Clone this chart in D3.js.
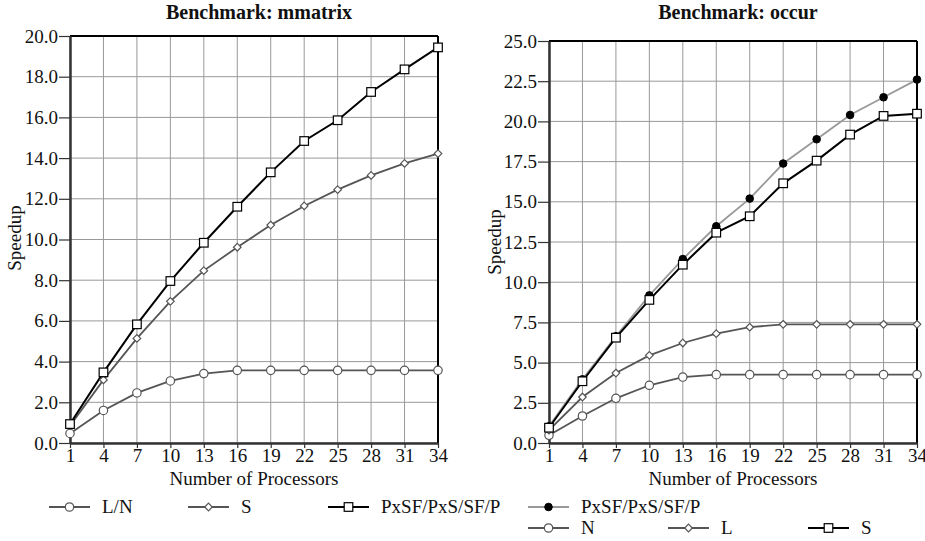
<!DOCTYPE html>
<html>
<head>
<meta charset="utf-8">
<script src="https://cdn.jsdelivr.net/npm/d3@7"></script>
<style>
  body { margin: 0; background: #fff; }
  svg text { font-family: "Liberation Serif", "Times New Roman", serif; fill: #111; }
</style>
</head>
<body>
<div id="chart"></div>
<script>
// number of processors (x axis, shared)
var procs = [1, 4, 7, 10, 13, 16, 19, 22, 25, 28, 31, 34];

// Benchmark: mmatrix
var mmatrixLN = [0.47, 1.6, 2.46, 3.05, 3.41, 3.57, 3.57, 3.57, 3.57, 3.57, 3.57, 3.57];
var mmatrixS = [0.85, 3.1, 5.14, 6.96, 8.47, 9.62, 10.71, 11.65, 12.45, 13.15, 13.74, 14.22];
var mmatrixP = [0.93, 3.47, 5.83, 7.96, 9.84, 11.61, 13.3, 14.84, 15.86, 17.25, 18.36, 19.44];
var mmatrixTicks = [0, 2, 4, 6, 8, 10, 12, 14, 16, 18, 20];

// Benchmark: occur
var occurP = [1.04, 3.96, 6.64, 9.18, 11.44, 13.48, 15.2, 17.38, 18.89, 20.4, 21.5, 22.6];
var occurN = [0.48, 1.68, 2.78, 3.59, 4.1, 4.25, 4.25, 4.25, 4.25, 4.25, 4.25, 4.25];
var occurL = [0.8, 2.86, 4.35, 5.45, 6.22, 6.8, 7.2, 7.38, 7.38, 7.38, 7.38, 7.38];
var occurS = [0.95, 3.84, 6.55, 8.9, 11.09, 13.08, 14.1, 16.15, 17.56, 19.18, 20.34, 20.48];
var occurTicks = [0, 2.5, 5, 7.5, 10, 12.5, 15, 17.5, 20, 22.5, 25];

var width = 925, height = 541;

var svg = d3.select("#chart")
            .append("svg")
            .attr("width", width)
            .attr("height", height);

function drawMarker(g, shape, x, y, fill, stroke)
{
	if (shape === "circle") {
		g.append("circle").attr("cx", x).attr("cy", y).attr("r", 4.2)
		 .attr("fill", fill).attr("stroke", stroke).attr("stroke-width", 1.2);
	} else if (shape === "dot") {
		g.append("circle").attr("cx", x).attr("cy", y).attr("r", 3.8)
		 .attr("fill", "#000").attr("stroke", "#000").attr("stroke-width", 1);
	} else if (shape === "diamond") {
		var s = 3.8;
		g.append("path")
		 .attr("d", "M" + x + "," + (y - s) + "L" + (x + s) + "," + y + "L" + x + "," + (y + s) + "L" + (x - s) + "," + y + "Z")
		 .attr("fill", fill).attr("stroke", stroke).attr("stroke-width", 1.2);
	} else if (shape === "square") {
		var h = 4.3;
		g.append("rect").attr("x", x - h).attr("y", y - h).attr("width", 2 * h).attr("height", 2 * h)
		 .attr("fill", fill).attr("stroke", stroke).attr("stroke-width", 1.2);
	}
}

function drawChart(opts)
{
	var x = d3.scaleLinear().domain([1, 34]).range([opts.left, opts.right]);
	var y = d3.scaleLinear().domain([0, opts.ymax]).range([opts.bottom, opts.top]);

	var g = svg.append("g");

	// grid
	g.append("g").selectAll("line").data(procs).enter().append("line")
	 .attr("x1", d => x(d)).attr("x2", d => x(d))
	 .attr("y1", opts.top).attr("y2", opts.bottom)
	 .attr("stroke", "#999").attr("stroke-width", 1);
	g.append("g").selectAll("line").data(opts.ticks).enter().append("line")
	 .attr("x1", opts.left).attr("x2", opts.right)
	 .attr("y1", d => y(d)).attr("y2", d => y(d))
	 .attr("stroke", "#999").attr("stroke-width", 1);

	// frame
	g.append("line").attr("x1", opts.left).attr("x2", opts.right)
	 .attr("y1", opts.top).attr("y2", opts.top).attr("stroke", "#000").attr("stroke-width", 2);
	g.append("line").attr("x1", opts.right).attr("x2", opts.right)
	 .attr("y1", opts.top).attr("y2", opts.bottom).attr("stroke", "#000").attr("stroke-width", 2);

	// axes
	var yAxis = d3.axisLeft(y).tickValues(opts.ticks).tickFormat(d3.format(".1f"))
	              .tickSizeInner(11).tickSizeOuter(0).tickPadding(1);
	var ya = g.append("g").attr("transform", "translate(" + opts.left + ",0)").call(yAxis);
	var xAxis = d3.axisBottom(x).tickValues(procs).tickSizeInner(5).tickSizeOuter(0).tickPadding(1);
	var xa = g.append("g").attr("transform", "translate(0," + opts.bottom + ")").call(xAxis);
	[ya, xa].forEach(function (a) {
		a.attr("font-family", null);
		a.select(".domain").attr("stroke", "#333").attr("stroke-width", 2.5);
		a.selectAll(".tick line").attr("stroke", "#333").attr("stroke-width", 1.2);
		a.selectAll(".tick text").attr("font-size", 19).attr("fill", "#111");
	});

	// series
	var line = d3.line().x((d, i) => x(procs[i])).y(d => y(d));
	opts.series.forEach(function (s) {
		g.append("path").datum(s.values)
		 .attr("d", line).attr("fill", "none")
		 .attr("stroke", s.color).attr("stroke-width", s.color === "#000" ? 2 : 1.8);
	});
	opts.series.forEach(function (s) {
		var mg = g.append("g");
		s.values.forEach(function (v, i) {
			drawMarker(mg, s.shape, x(procs[i]), y(v), "#fff", s.color === "#999" ? "#000" : s.color);
		});
	});

	// titles
	g.append("text").attr("x", opts.titleX).attr("y", 19).attr("text-anchor", "middle")
	 .attr("font-size", 20).attr("font-weight", "bold").text(opts.title);
	g.append("text").attr("x", (opts.left + opts.right) / 2).attr("y", 485).attr("text-anchor", "middle")
	 .attr("font-size", 19).text("Number of Processors");
	g.append("text").attr("transform", "translate(" + opts.ylabX + "," + opts.ylabY + ") rotate(-90)")
	 .attr("text-anchor", "middle").attr("font-size", 19).text("Speedup");
}

drawChart({
	left: 70, right: 438, top: 36, bottom: 443, ymax: 20, ticks: mmatrixTicks,
	title: "Benchmark: mmatrix", titleX: 259, ylabX: 21, ylabY: 238,
	series: [
		{values: mmatrixLN, shape: "circle", color: "#555"},
		{values: mmatrixS, shape: "diamond", color: "#555"},
		{values: mmatrixP, shape: "square", color: "#000"}
	]
});

drawChart({
	left: 549, right: 917, top: 41, bottom: 443, ymax: 25, ticks: occurTicks,
	title: "Benchmark: occur", titleX: 738, ylabX: 501, ylabY: 242,
	series: [
		{values: occurN, shape: "circle", color: "#555"},
		{values: occurL, shape: "diamond", color: "#555"},
		{values: occurP, shape: "dot", color: "#999"},
		{values: occurS, shape: "square", color: "#000"}
	]
});

// legend
var legendItems = [
	{label: "L/N", shape: "circle", color: "#555", x: 49, y: 507},
	{label: "S", shape: "diamond", color: "#555", x: 188, y: 507},
	{label: "PxSF/PxS/SF/P", shape: "square", color: "#000", x: 328, y: 507},
	{label: "PxSF/PxS/SF/P", shape: "dot", color: "#999", x: 528, y: 507},
	{label: "N", shape: "circle", color: "#555", x: 528, y: 528},
	{label: "L", shape: "diamond", color: "#555", x: 668, y: 528},
	{label: "S", shape: "square", color: "#000", x: 808, y: 528}
];
var lg = svg.append("g");
legendItems.forEach(function (d) {
	lg.append("line").attr("x1", d.x).attr("x2", d.x + 41).attr("y1", d.y).attr("y2", d.y)
	  .attr("stroke", d.color).attr("stroke-width", 2);
	drawMarker(lg, d.shape, d.x + 20.5, d.y, "#fff", d.color === "#999" ? "#000" : d.color);
	lg.append("text").attr("x", d.x + 53).attr("y", d.y + 6).attr("font-size", 19).text(d.label);
});
</script>
</body>
</html>
